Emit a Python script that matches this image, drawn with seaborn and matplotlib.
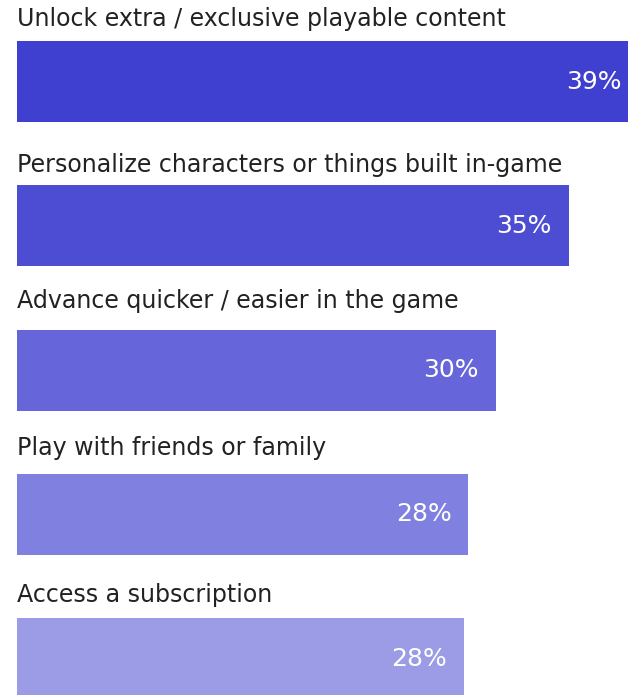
import matplotlib
matplotlib.use("Agg")
import matplotlib.pyplot as plt
from matplotlib.transforms import offset_copy
import seaborn as sns
import pandas as pd

# Reasons players give for spending money in games
reasons = [
    "Unlock extra / exclusive playable content",
    "Personalize characters or things built in-game",
    "Advance quicker / easier in the game",
    "Play with friends or family",
    "Access a subscription",
]
shares = [39.0, 34.6, 30.0, 28.3, 28.0]
bar_colors = ["#4040D0", "#4D4DD4", "#6666DA", "#8080E0", "#9B9BE6"]

# Vertical gap (px) between each caption baseline and the top of its bar
caption_gap_px = [15, 13, 22, 19, 16]

sns.set_theme(style="white")
plt.rcParams["font.family"] = ["DejaVu Sans"]

df = pd.DataFrame({"reason": reasons, "share": shares})

DPI = 100
fig = plt.figure(figsize=(6.28, 6.95), dpi=DPI)
ax = fig.add_axes([0, 0, 1, 1])

bar_h = 81 / 144.25
sns.barplot(
    data=df, x="share", y="reason", hue="reason", palette=bar_colors,
    orient="h", width=bar_h, legend=False, ax=ax, saturation=1,
)
for p in ax.patches:
    p.set_linewidth(0)

# 0% sits 17 px in from the left edge, ~15.95 px per percentage point
px_per_pct = 15.95
ax.set_xlim(-17 / px_per_pct, (628 - 17) / px_per_pct)
ax.set_ylim(4.253, -0.565)
ax.axis("off")

px_to_pt = 72 / DPI
for i, (reason, share) in enumerate(zip(reasons, shares)):
    top = i - bar_h / 2
    tr = offset_copy(ax.transData, fig=fig, x=0, y=caption_gap_px[i] * px_to_pt, units="points")
    ax.text(0, top, reason, transform=tr, ha="left", va="baseline",
            fontsize=17.1, color="#222222")
    tr_v = offset_copy(ax.transData, fig=fig, x=-17 * px_to_pt, y=0, units="points")
    ax.text(share, i, f"{share:.0f}%", transform=tr_v, ha="right", va="center",
            fontsize=18, color="white")

fig.savefig("out.png", dpi=DPI)
